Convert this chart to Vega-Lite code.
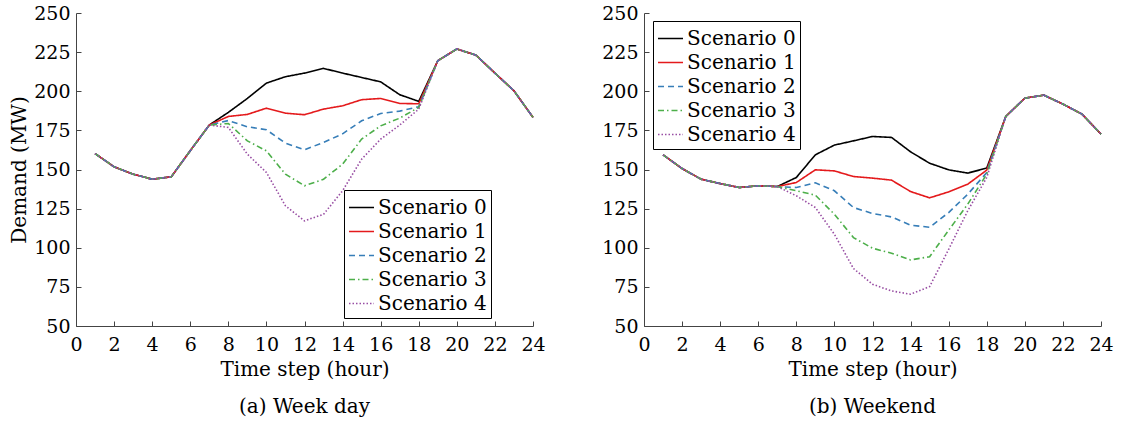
{
  "$schema": "https://vega.github.io/schema/vega-lite/v6.json",
  "padding": {"left": 9, "top": 4, "right": 4, "bottom": 4},
  "spacing": 55,
  "background": "white",
  "config": {
    "font": "DejaVu Serif",
    "view": {"stroke": null},
    "axis": {
      "labelFont": "DejaVu Serif",
      "titleFont": "DejaVu Serif",
      "labelFontSize": 19,
      "titleFontSize": 20,
      "titleFontWeight": "normal",
      "labelColor": "black",
      "titleColor": "black",
      "domainColor": "#444",
      "tickColor": "#444",
      "grid": false,
      "tickSize": -5,
      "labelFlush": false,
      "labelOverlap": false
    },
    "axisX": {"labelPadding": 14, "titlePadding": 5},
    "axisY": {"labelPadding": 11},
    "title": {"font": "DejaVu Serif", "fontSize": 20, "fontWeight": "normal", "color": "black", "orient": "bottom", "offset": 18},
    "legend": {
      "orient": "none",
      "title": null,
      "strokeColor": "black",
      "fillColor": "white",
      "padding": 4,
      "symbolType": "stroke",
      "symbolSize": 625,
      "symbolStrokeWidth": 1.6,
      "labelFont": "DejaVu Serif",
      "labelFontSize": 20,
      "labelColor": "black",
      "labelOffset": 3,
      "rowPadding": 0
    },
    "line": {"strokeWidth": 1.6}
  },
  "datasets": {
    "weekday": [
      {"scenario":"Scenario 0","hour":1,"demand":160.2},{"scenario":"Scenario 0","hour":2,"demand":151.7},{"scenario":"Scenario 0","hour":3,"demand":147},{"scenario":"Scenario 0","hour":4,"demand":143.8},{"scenario":"Scenario 0","hour":5,"demand":145.3},{"scenario":"Scenario 0","hour":6,"demand":162},{"scenario":"Scenario 0","hour":7,"demand":178.4},{"scenario":"Scenario 0","hour":8,"demand":186.5},{"scenario":"Scenario 0","hour":9,"demand":195.4},{"scenario":"Scenario 0","hour":10,"demand":205.2},{"scenario":"Scenario 0","hour":11,"demand":209.3},{"scenario":"Scenario 0","hour":12,"demand":211.6},{"scenario":"Scenario 0","hour":13,"demand":214.6},{"scenario":"Scenario 0","hour":14,"demand":211.6},{"scenario":"Scenario 0","hour":15,"demand":208.8},{"scenario":"Scenario 0","hour":16,"demand":206},{"scenario":"Scenario 0","hour":17,"demand":197.8},{"scenario":"Scenario 0","hour":18,"demand":193.5},{"scenario":"Scenario 0","hour":19,"demand":219.5},{"scenario":"Scenario 0","hour":20,"demand":227},{"scenario":"Scenario 0","hour":21,"demand":223.1},{"scenario":"Scenario 0","hour":22,"demand":211.6},{"scenario":"Scenario 0","hour":23,"demand":200.3},{"scenario":"Scenario 0","hour":24,"demand":183.3},
      {"scenario":"Scenario 1","hour":1,"demand":160.2},{"scenario":"Scenario 1","hour":2,"demand":151.7},{"scenario":"Scenario 1","hour":3,"demand":147},{"scenario":"Scenario 1","hour":4,"demand":143.8},{"scenario":"Scenario 1","hour":5,"demand":145.3},{"scenario":"Scenario 1","hour":6,"demand":162},{"scenario":"Scenario 1","hour":7,"demand":178.4},{"scenario":"Scenario 1","hour":8,"demand":183.9},{"scenario":"Scenario 1","hour":9,"demand":185.2},{"scenario":"Scenario 1","hour":10,"demand":189.2},{"scenario":"Scenario 1","hour":11,"demand":186},{"scenario":"Scenario 1","hour":12,"demand":185},{"scenario":"Scenario 1","hour":13,"demand":188.6},{"scenario":"Scenario 1","hour":14,"demand":190.7},{"scenario":"Scenario 1","hour":15,"demand":194.6},{"scenario":"Scenario 1","hour":16,"demand":195.4},{"scenario":"Scenario 1","hour":17,"demand":192.2},{"scenario":"Scenario 1","hour":18,"demand":192},{"scenario":"Scenario 1","hour":19,"demand":219.5},{"scenario":"Scenario 1","hour":20,"demand":227},{"scenario":"Scenario 1","hour":21,"demand":223.1},{"scenario":"Scenario 1","hour":22,"demand":211.6},{"scenario":"Scenario 1","hour":23,"demand":200.3},{"scenario":"Scenario 1","hour":24,"demand":183.3},
      {"scenario":"Scenario 2","hour":1,"demand":160.2},{"scenario":"Scenario 2","hour":2,"demand":151.7},{"scenario":"Scenario 2","hour":3,"demand":147},{"scenario":"Scenario 2","hour":4,"demand":143.8},{"scenario":"Scenario 2","hour":5,"demand":145.3},{"scenario":"Scenario 2","hour":6,"demand":162},{"scenario":"Scenario 2","hour":7,"demand":178.4},{"scenario":"Scenario 2","hour":8,"demand":181.3},{"scenario":"Scenario 2","hour":9,"demand":177.3},{"scenario":"Scenario 2","hour":10,"demand":175.4},{"scenario":"Scenario 2","hour":11,"demand":166.8},{"scenario":"Scenario 2","hour":12,"demand":162.6},{"scenario":"Scenario 2","hour":13,"demand":167.3},{"scenario":"Scenario 2","hour":14,"demand":172.8},{"scenario":"Scenario 2","hour":15,"demand":181.1},{"scenario":"Scenario 2","hour":16,"demand":185.8},{"scenario":"Scenario 2","hour":17,"demand":187.3},{"scenario":"Scenario 2","hour":18,"demand":190.1},{"scenario":"Scenario 2","hour":19,"demand":219.5},{"scenario":"Scenario 2","hour":20,"demand":227},{"scenario":"Scenario 2","hour":21,"demand":223.1},{"scenario":"Scenario 2","hour":22,"demand":211.6},{"scenario":"Scenario 2","hour":23,"demand":200.3},{"scenario":"Scenario 2","hour":24,"demand":183.3},
      {"scenario":"Scenario 3","hour":1,"demand":160.2},{"scenario":"Scenario 3","hour":2,"demand":151.7},{"scenario":"Scenario 3","hour":3,"demand":147},{"scenario":"Scenario 3","hour":4,"demand":143.8},{"scenario":"Scenario 3","hour":5,"demand":145.3},{"scenario":"Scenario 3","hour":6,"demand":162},{"scenario":"Scenario 3","hour":7,"demand":178.4},{"scenario":"Scenario 3","hour":8,"demand":179.4},{"scenario":"Scenario 3","hour":9,"demand":168.3},{"scenario":"Scenario 3","hour":10,"demand":161.9},{"scenario":"Scenario 3","hour":11,"demand":147},{"scenario":"Scenario 3","hour":12,"demand":139.6},{"scenario":"Scenario 3","hour":13,"demand":143.8},{"scenario":"Scenario 3","hour":14,"demand":153.4},{"scenario":"Scenario 3","hour":15,"demand":169.4},{"scenario":"Scenario 3","hour":16,"demand":177.9},{"scenario":"Scenario 3","hour":17,"demand":182.8},{"scenario":"Scenario 3","hour":18,"demand":189.7},{"scenario":"Scenario 3","hour":19,"demand":219.5},{"scenario":"Scenario 3","hour":20,"demand":227},{"scenario":"Scenario 3","hour":21,"demand":223.1},{"scenario":"Scenario 3","hour":22,"demand":211.6},{"scenario":"Scenario 3","hour":23,"demand":200.3},{"scenario":"Scenario 3","hour":24,"demand":183.3},
      {"scenario":"Scenario 4","hour":1,"demand":160.2},{"scenario":"Scenario 4","hour":2,"demand":151.7},{"scenario":"Scenario 4","hour":3,"demand":147},{"scenario":"Scenario 4","hour":4,"demand":143.8},{"scenario":"Scenario 4","hour":5,"demand":145.3},{"scenario":"Scenario 4","hour":6,"demand":162},{"scenario":"Scenario 4","hour":7,"demand":178.4},{"scenario":"Scenario 4","hour":8,"demand":176.9},{"scenario":"Scenario 4","hour":9,"demand":159.8},{"scenario":"Scenario 4","hour":10,"demand":148.1},{"scenario":"Scenario 4","hour":11,"demand":126.8},{"scenario":"Scenario 4","hour":12,"demand":117.2},{"scenario":"Scenario 4","hour":13,"demand":121.4},{"scenario":"Scenario 4","hour":14,"demand":136.4},{"scenario":"Scenario 4","hour":15,"demand":156.6},{"scenario":"Scenario 4","hour":16,"demand":169.4},{"scenario":"Scenario 4","hour":17,"demand":178.4},{"scenario":"Scenario 4","hour":18,"demand":188.6},{"scenario":"Scenario 4","hour":19,"demand":219.5},{"scenario":"Scenario 4","hour":20,"demand":227},{"scenario":"Scenario 4","hour":21,"demand":223.1},{"scenario":"Scenario 4","hour":22,"demand":211.6},{"scenario":"Scenario 4","hour":23,"demand":200.3},{"scenario":"Scenario 4","hour":24,"demand":183.3}
    ],
    "weekend": [
      {"scenario":"Scenario 0","hour":1,"demand":159.4},{"scenario":"Scenario 0","hour":2,"demand":150.6},{"scenario":"Scenario 0","hour":3,"demand":143.8},{"scenario":"Scenario 0","hour":4,"demand":141},{"scenario":"Scenario 0","hour":5,"demand":138.5},{"scenario":"Scenario 0","hour":6,"demand":139.6},{"scenario":"Scenario 0","hour":7,"demand":139.1},{"scenario":"Scenario 0","hour":8,"demand":144.9},{"scenario":"Scenario 0","hour":9,"demand":159.4},{"scenario":"Scenario 0","hour":10,"demand":165.6},{"scenario":"Scenario 0","hour":11,"demand":168.3},{"scenario":"Scenario 0","hour":12,"demand":171.1},{"scenario":"Scenario 0","hour":13,"demand":170.5},{"scenario":"Scenario 0","hour":14,"demand":161.3},{"scenario":"Scenario 0","hour":15,"demand":154},{"scenario":"Scenario 0","hour":16,"demand":149.8},{"scenario":"Scenario 0","hour":17,"demand":147.7},{"scenario":"Scenario 0","hour":18,"demand":150.9},{"scenario":"Scenario 0","hour":19,"demand":183.9},{"scenario":"Scenario 0","hour":20,"demand":195.6},{"scenario":"Scenario 0","hour":21,"demand":197.5},{"scenario":"Scenario 0","hour":22,"demand":191.8},{"scenario":"Scenario 0","hour":23,"demand":185.4},{"scenario":"Scenario 0","hour":24,"demand":172.6},
      {"scenario":"Scenario 1","hour":1,"demand":159.4},{"scenario":"Scenario 1","hour":2,"demand":150.6},{"scenario":"Scenario 1","hour":3,"demand":143.8},{"scenario":"Scenario 1","hour":4,"demand":141},{"scenario":"Scenario 1","hour":5,"demand":138.5},{"scenario":"Scenario 1","hour":6,"demand":139.6},{"scenario":"Scenario 1","hour":7,"demand":139.1},{"scenario":"Scenario 1","hour":8,"demand":141.7},{"scenario":"Scenario 1","hour":9,"demand":149.8},{"scenario":"Scenario 1","hour":10,"demand":149.1},{"scenario":"Scenario 1","hour":11,"demand":145.5},{"scenario":"Scenario 1","hour":12,"demand":144.5},{"scenario":"Scenario 1","hour":13,"demand":143.2},{"scenario":"Scenario 1","hour":14,"demand":135.9},{"scenario":"Scenario 1","hour":15,"demand":131.9},{"scenario":"Scenario 1","hour":16,"demand":135.7},{"scenario":"Scenario 1","hour":17,"demand":140.6},{"scenario":"Scenario 1","hour":18,"demand":149.6},{"scenario":"Scenario 1","hour":19,"demand":183.9},{"scenario":"Scenario 1","hour":20,"demand":195.6},{"scenario":"Scenario 1","hour":21,"demand":197.5},{"scenario":"Scenario 1","hour":22,"demand":191.8},{"scenario":"Scenario 1","hour":23,"demand":185.4},{"scenario":"Scenario 1","hour":24,"demand":172.6},
      {"scenario":"Scenario 2","hour":1,"demand":159.4},{"scenario":"Scenario 2","hour":2,"demand":150.6},{"scenario":"Scenario 2","hour":3,"demand":143.8},{"scenario":"Scenario 2","hour":4,"demand":141},{"scenario":"Scenario 2","hour":5,"demand":138.5},{"scenario":"Scenario 2","hour":6,"demand":139.6},{"scenario":"Scenario 2","hour":7,"demand":139.1},{"scenario":"Scenario 2","hour":8,"demand":138.5},{"scenario":"Scenario 2","hour":9,"demand":141.5},{"scenario":"Scenario 2","hour":10,"demand":136.4},{"scenario":"Scenario 2","hour":11,"demand":125.7},{"scenario":"Scenario 2","hour":12,"demand":121.9},{"scenario":"Scenario 2","hour":13,"demand":119.7},{"scenario":"Scenario 2","hour":14,"demand":114.4},{"scenario":"Scenario 2","hour":15,"demand":113.1},{"scenario":"Scenario 2","hour":16,"demand":122.5},{"scenario":"Scenario 2","hour":17,"demand":134.2},{"scenario":"Scenario 2","hour":18,"demand":148},{"scenario":"Scenario 2","hour":19,"demand":183.9},{"scenario":"Scenario 2","hour":20,"demand":195.6},{"scenario":"Scenario 2","hour":21,"demand":197.5},{"scenario":"Scenario 2","hour":22,"demand":191.8},{"scenario":"Scenario 2","hour":23,"demand":185.4},{"scenario":"Scenario 2","hour":24,"demand":172.6},
      {"scenario":"Scenario 3","hour":1,"demand":159.4},{"scenario":"Scenario 3","hour":2,"demand":150.6},{"scenario":"Scenario 3","hour":3,"demand":143.8},{"scenario":"Scenario 3","hour":4,"demand":141},{"scenario":"Scenario 3","hour":5,"demand":138.5},{"scenario":"Scenario 3","hour":6,"demand":139.6},{"scenario":"Scenario 3","hour":7,"demand":139.1},{"scenario":"Scenario 3","hour":8,"demand":136.4},{"scenario":"Scenario 3","hour":9,"demand":133.6},{"scenario":"Scenario 3","hour":10,"demand":121.4},{"scenario":"Scenario 3","hour":11,"demand":106.5},{"scenario":"Scenario 3","hour":12,"demand":99.7},{"scenario":"Scenario 3","hour":13,"demand":96.5},{"scenario":"Scenario 3","hour":14,"demand":92.2},{"scenario":"Scenario 3","hour":15,"demand":94.3},{"scenario":"Scenario 3","hour":16,"demand":111.2},{"scenario":"Scenario 3","hour":17,"demand":127.8},{"scenario":"Scenario 3","hour":18,"demand":147},{"scenario":"Scenario 3","hour":19,"demand":183.9},{"scenario":"Scenario 3","hour":20,"demand":195.6},{"scenario":"Scenario 3","hour":21,"demand":197.5},{"scenario":"Scenario 3","hour":22,"demand":191.8},{"scenario":"Scenario 3","hour":23,"demand":185.4},{"scenario":"Scenario 3","hour":24,"demand":172.6},
      {"scenario":"Scenario 4","hour":1,"demand":159.4},{"scenario":"Scenario 4","hour":2,"demand":150.6},{"scenario":"Scenario 4","hour":3,"demand":143.8},{"scenario":"Scenario 4","hour":4,"demand":141},{"scenario":"Scenario 4","hour":5,"demand":138.5},{"scenario":"Scenario 4","hour":6,"demand":139.6},{"scenario":"Scenario 4","hour":7,"demand":139.1},{"scenario":"Scenario 4","hour":8,"demand":133.2},{"scenario":"Scenario 4","hour":9,"demand":125.7},{"scenario":"Scenario 4","hour":10,"demand":108.6},{"scenario":"Scenario 4","hour":11,"demand":86.7},{"scenario":"Scenario 4","hour":12,"demand":76.7},{"scenario":"Scenario 4","hour":13,"demand":72.4},{"scenario":"Scenario 4","hour":14,"demand":70.3},{"scenario":"Scenario 4","hour":15,"demand":75.2},{"scenario":"Scenario 4","hour":16,"demand":99},{"scenario":"Scenario 4","hour":17,"demand":123.6},{"scenario":"Scenario 4","hour":18,"demand":144.9},{"scenario":"Scenario 4","hour":19,"demand":183.9},{"scenario":"Scenario 4","hour":20,"demand":195.6},{"scenario":"Scenario 4","hour":21,"demand":197.5},{"scenario":"Scenario 4","hour":22,"demand":191.8},{"scenario":"Scenario 4","hour":23,"demand":185.4},{"scenario":"Scenario 4","hour":24,"demand":172.6}
    ]
  },
  "resolve": {"legend": {"color": "independent", "strokeDash": "independent"}},
  "hconcat": [
    {
      "data": {"name": "weekday"},
      "title": {"text": "(a) Week day"},
      "width": 457,
      "height": 313,
      "mark": {"type": "line"},
      "encoding": {
        "x": {"field": "hour", "type": "quantitative", "scale": {"domain": [0, 24], "nice": false}, "axis": {"values": [0,2,4,6,8,10,12,14,16,18,20,22,24], "title": "Time step (hour)"}},
        "y": {"field": "demand", "type": "quantitative", "scale": {"domain": [50, 250], "nice": false}, "axis": {"values": [50,75,100,125,150,175,200,225,250], "title": "Demand (MW)", "titlePadding": 4}},
        "color": {"field": "scenario", "type": "nominal", "scale": {"domain": ["Scenario 0","Scenario 1","Scenario 2","Scenario 3","Scenario 4"], "range": ["#000000","#e41a1c","#377eb8","#4daf4a","#984ea3"]}, "legend": {"legendX": 268, "legendY": 177}},
        "strokeDash": {"field": "scenario", "type": "nominal", "scale": {"domain": ["Scenario 0","Scenario 1","Scenario 2","Scenario 3","Scenario 4"], "range": [[1,0],[1,0],[6,4],[6,3,1.5,3],[1.5,2]]}, "legend": {"legendX": 268, "legendY": 177}}
      }
    },
    {
      "data": {"name": "weekend"},
      "title": {"text": "(b) Weekend"},
      "width": 457,
      "height": 313,
      "mark": {"type": "line"},
      "encoding": {
        "x": {"field": "hour", "type": "quantitative", "scale": {"domain": [0, 24], "nice": false}, "axis": {"values": [0,2,4,6,8,10,12,14,16,18,20,22,24], "title": "Time step (hour)"}},
        "y": {"field": "demand", "type": "quantitative", "scale": {"domain": [50, 250], "nice": false}, "axis": {"values": [50,75,100,125,150,175,200,225,250], "title": null}},
        "color": {"field": "scenario", "type": "nominal", "scale": {"domain": ["Scenario 0","Scenario 1","Scenario 2","Scenario 3","Scenario 4"], "range": ["#000000","#e41a1c","#377eb8","#4daf4a","#984ea3"]}, "legend": {"legendX": 9, "legendY": 8}},
        "strokeDash": {"field": "scenario", "type": "nominal", "scale": {"domain": ["Scenario 0","Scenario 1","Scenario 2","Scenario 3","Scenario 4"], "range": [[1,0],[1,0],[6,4],[6,3,1.5,3],[1.5,2]]}, "legend": {"legendX": 9, "legendY": 8}}
      }
    }
  ]
}
